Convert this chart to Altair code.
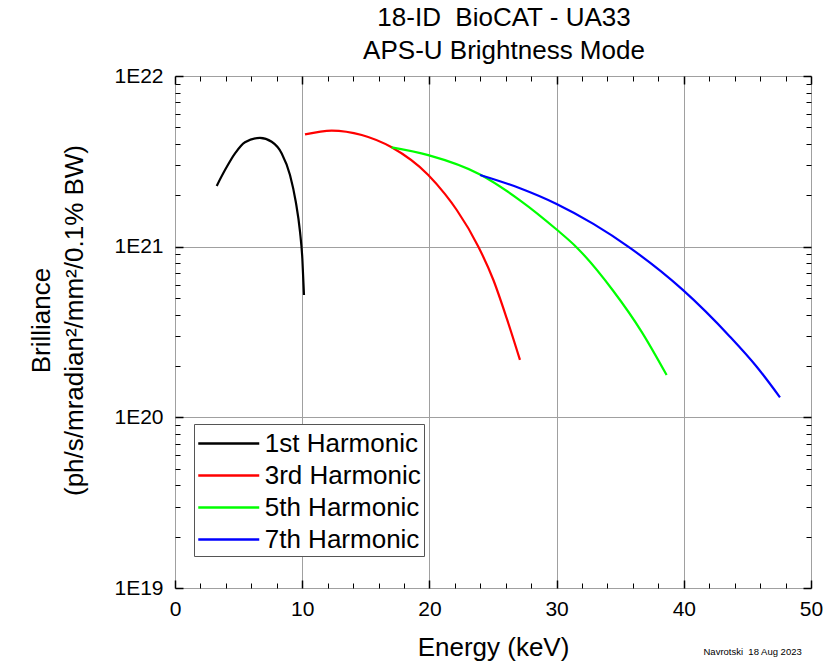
import altair as alt
import pandas as pd

F = "Liberation Sans, Arial, sans-serif"

harmonics = ["1st Harmonic", "3rd Harmonic", "5th Harmonic", "7th Harmonic"]
colors = ["#000000", "#ff0000", "#00ff00", "#0000ff"]

E1 = [3.28, 3.93, 4.72, 5.50, 6.68, 7.60, 8.39, 9.04, 9.49, 9.83, 10.01, 10.14]
B1 = [2.27e21, 2.81e21, 3.52e21, 4.09e21, 4.34e21, 4.12e21, 3.52e21, 2.63e21, 1.84e21, 1.22e21, 8.55e20, 5.21e20]

E3 = [10.22, 12.32, 14.68, 17.03, 19.91, 21.23, 22.15, 23.85, 25.03, 26.08, 27.12]
B3 = [4.55e21, 4.79e21, 4.51e21, 3.82e21, 2.63e21, 2.03e21, 1.64e21, 1.0e21, 6.38e20, 3.8e20, 2.17e20]

E5 = [17.03, 19.91, 23.98, 27.12, 30.0, 31.58, 34.46, 36.7, 38.65]
B5 = [3.82e21, 3.44e21, 2.65e21, 1.87e21, 1.26e21, 9.9e20, 5.5e20, 3.16e20, 1.77e20]

E7 = [23.98, 27.12, 30.0, 32.89, 35.77, 39.9, 43.63, 45.73, 47.56]
B7 = [2.63e21, 2.2e21, 1.78e21, 1.36e21, 9.84e20, 5.6e20, 2.97e20, 1.98e20, 1.31e20]

x_major = [0, 10, 20, 30, 40, 50]
x_minor = [2, 4, 6, 8, 12, 14, 16, 18, 22, 24, 26, 28, 32, 34, 36, 38, 42, 44, 46, 48]
y_major = [1e19, 1e20, 1e21, 1e22]
y_minor = [m * 10.0 ** p for p in (19, 20, 21) for m in range(2, 10)]

rows = []
for name, es, bs in zip(harmonics, [E1, E3, E5, E7], [B1, B3, B5, B7]):
    for e, b in zip(es, bs):
        rows.append({"harmonic": name, "energy": e, "brilliance": b})
df = pd.DataFrame(rows)

xs = alt.Scale(domain=[0, 50], nice=False, zero=False)
ys = alt.Scale(type="log", domain=[1e19, 1e22], nice=False)

base = alt.Chart(df)


def tick_axis(orient, values, size, width, **kw):
    return alt.Axis(
        orient=orient, values=values, offset=-size, tickSize=size, tickWidth=width,
        tickColor="black", domain=False, grid=False, labels=False, title=None, **kw
    )


ax_x_main = alt.Axis(
    orient="bottom", values=x_major, grid=True, gridColor="#a0a0a0", gridWidth=1,
    ticks=False, tickSize=0, domain=False, labelPadding=10, labelFontSize=21,
    labelFont=F, labelColor="black", labelFlush=False, labelOverlap=False, format="d",
    title="Energy (keV)", titleFontSize=26, titleFont=F, titleFontWeight="normal",
    titlePadding=15, titleColor="black",
)
ax_y_main = alt.Axis(
    orient="left", values=y_major, grid=True, gridColor="#a0a0a0", gridWidth=1,
    ticks=False, tickSize=0, domain=False, labelPadding=12, labelFontSize=21,
    labelFont=F, labelColor="black", labelFlush=False, labelOverlap=False,
    labelExpr="'1E' + round(log(datum.value) / LN10)",
    title=["Brilliance", "(ph/s/mradian²/mm²/0.1% BW)"], titleFontSize=26, titleFont=F,
    titleFontWeight="normal", titleLineHeight=33, titlePadding=26, titleY=244,
    titleColor="black",
)

lines = base.mark_line(strokeWidth=2.2, interpolate="monotone").encode(
    x=alt.X("energy:Q", scale=xs, axis=ax_x_main),
    y=alt.Y("brilliance:Q", scale=ys, axis=ax_y_main),
    color=alt.Color(
        "harmonic:N",
        scale=alt.Scale(domain=harmonics, range=colors),
        legend=alt.Legend(
            title=None, orient="none", legendX=19, legendY=348,
            symbolType="M-2,0H2", symbolSize=930.25, symbolOffset=15.25,
            symbolStrokeWidth=2.5, labelFontSize=26, labelFont=F,
            labelColor="black", labelOffset=19.5, rowPadding=2, padding=3,
            strokeColor="#555555", fillColor="white", labelLimit=400,
        ),
    ),
)


def ghost(xaxis, yaxis):
    return base.mark_line(strokeOpacity=0).encode(
        x=alt.X("energy:Q", scale=xs, axis=xaxis),
        y=alt.Y("brilliance:Q", scale=ys, axis=yaxis),
        detail="harmonic:N",
    )


ax_x_bmaj = alt.Axis(
    orient="bottom", values=x_major, offset=-8, tickSize=8, tickWidth=1.5,
    tickColor="black", domain=False, grid=False, labels=False,
    title="Navrotski\u00a0 18 Aug 2023", titleFontSize=9.5, titleFont=F,
    titleFontWeight="normal", titleColor="black", titleX=528, titleY=71,
    titleAlign="left", titleBaseline="middle",
)

layers = [
    lines,
    ghost(ax_x_bmaj, tick_axis("left", y_major, 8, 1.5)),
    ghost(tick_axis("bottom", x_minor, 5, 1), tick_axis("left", y_minor, 5, 1)),
    ghost(tick_axis("top", x_major, 8, 1.5), tick_axis("right", y_major, 8, 1.5)),
    ghost(tick_axis("top", x_minor, 5, 1), tick_axis("right", y_minor, 5, 1)),
]

chart = (
    alt.layer(*layers)
    .resolve_axis(x="independent", y="independent")
    .properties(
        width=636,
        height=512,
        autosize=alt.AutoSizeParams(type="none"),
        padding={"left": 167, "top": 68, "right": 14, "bottom": 75},
        title=alt.Title(
            text=["18-ID\u00a0 BioCAT - UA33", "APS-U Brightness Mode"], fontSize=26,
            font=F, fontWeight="normal", lineHeight=33, offset=1, dx=11,
            anchor="middle", color="black",
        ),
    )
    .configure_view(stroke="black", strokeWidth=1.5)
    .configure(background="white")
)

chart.save("out.html", embed_options={"renderer": "svg", "actions": False})
